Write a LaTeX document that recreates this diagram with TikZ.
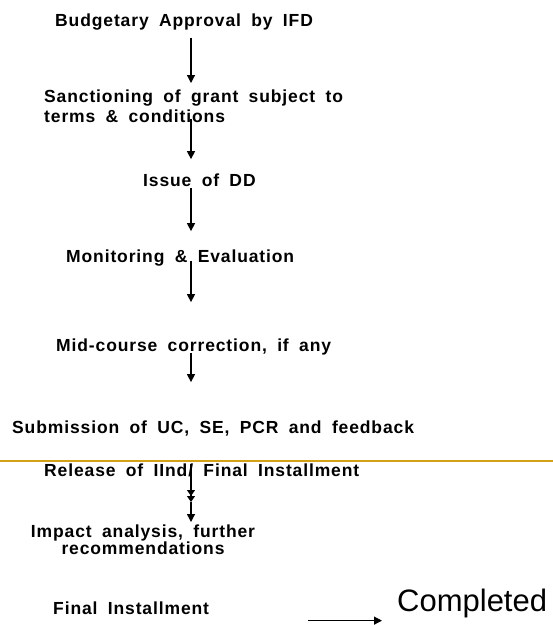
\documentclass[tikz,border=0pt]{standalone}
\usepackage{fontspec}
\setmainfont{Liberation Sans}
\newfontfamily\stagefont{Liberation Sans Bold}[LetterSpace=5,WordSpace=1.8]
\usetikzlibrary{arrows.meta}
\definecolor{rulegold}{RGB}{212,160,23}
\tikzset{
  stage/.style={anchor=base west, inner sep=0pt, align=left,
    font=\stagefont\fontsize{17.5}{17}\selectfont},
  flow/.style={-{Triangle[width=8pt,length=8pt]}, line width=1.2pt},
  twoflow/.style={-{Triangle[width=8pt,length=6pt]Triangle[width=8pt,length=6pt]}, line width=1.2pt},
}
\begin{document}
\begin{tikzpicture}[x=1pt, y=-1pt]
  \useasboundingbox (0,0) rectangle (553,625);
  \coordinate (spine) at (191,0);

  \node[stage] (budget) at (55,26) {Budgetary Approval by IFD};
  \node[stage, anchor=north west, font=\stagefont\fontsize{17.5}{20}\selectfont] (sanction) at (44,90) {Sanctioning of grant subject to\\terms \& conditions};
  \node[stage] (issue) at (143,186) {Issue of DD};
  \node[stage] (monitor) at (66,262) {Monitoring \& Evaluation};
  \node[stage] (midcourse) at (56,351) {Mid-course correction, if any};
  \node[stage] (submission) at (12,433) {Submission of UC, SE, PCR and feedback};
  \node[stage] (release) at (44,476) {Release of IInd/ Final Installment};
  \node[stage, anchor=north, align=center] (impact) at (143,525) {Impact analysis, further\\recommendations};
  \node[stage] (final) at (53,614) {Final Installment};
  \node[anchor=base west, inner sep=0pt, font=\fontsize{31}{36}\selectfont] (completed) at (397,611) {Completed};
  \coordinate (handoff) at ([shift={(-89,3)}]completed.south west);

  % separator
  \draw[rulegold, line width=2pt] (0,461) -- (553,461);

  \draw[flow, shorten <=8pt, shorten >=7pt] (budget.south -| spine) -- (sanction.north -| spine);
  \draw[flow, shorten <=-4pt, shorten >=14pt] (sanction.south -| spine) -- (issue.north -| spine);
  \draw[flow, shorten <=2pt, shorten >=18pt] (issue.south -| spine) -- (monitor.north -| spine);
  \draw[flow, shorten <=-5pt, shorten >=36pt] (monitor.south -| spine) -- (midcourse.north -| spine);
  \draw[flow, shorten <=-2pt, shorten >=38pt] (midcourse.south -| spine) -- (submission.north -| spine);
  \draw[twoflow, shorten <=1pt, shorten >=23pt] (release.north -| spine) -- (impact.north -| spine);
  \draw[flow, shorten <=25pt, shorten >=3pt] (release.south -| spine) -- (impact.north -| spine);
  \draw[flow, shorten >=15pt] (handoff) -- (handoff -| completed.west);
\end{tikzpicture}
\end{document}
